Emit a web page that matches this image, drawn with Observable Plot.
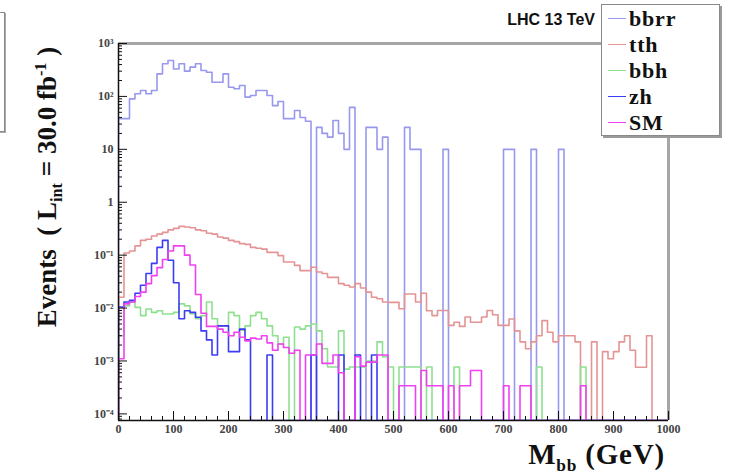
<!DOCTYPE html>
<html>
<head>
<meta charset="utf-8">
<script src="https://cdn.jsdelivr.net/npm/d3@7"></script>
<script src="https://cdn.jsdelivr.net/npm/@observablehq/plot@0.6"></script>
<style>
  html, body { margin: 0; padding: 0; background: #fff; }
  #wrap { position: relative; width: 731px; height: 476px; overflow: hidden; background: #fff; }
  #chart { position: absolute; left: 0; top: 0; }
  .ov { position: absolute; white-space: nowrap; }
  .serifb { font-family: "Liberation Serif", "DejaVu Serif", serif; font-weight: bold; color: #111; }
  #legend { position: absolute; left: 601px; top: 4px; width: 117px; height: 130px; background: #fff;
            border: 1.5px solid #8a8a8a; box-shadow: 2px 2px 0 #9a9a9a; }
  .lrow { position: absolute; left: 0; height: 26px; }
  .lline { position: absolute; left: 6px; top: 12px; width: 18px; height: 0; border-top: 1.5px solid; }
  .ltext { position: absolute; left: 27px; top: 0; font-size: 22px; line-height: 26px; letter-spacing: 0.8px; }
  #lhc { font-family: "Liberation Sans", Arial, sans-serif; font-weight: bold; font-size: 16px; color: #111; }
  sub, sup { font-size: 60%; line-height: 0; }
</style>
</head>
<body>
<div id="wrap">
  <div id="chart"></div>
</div>
<script>
// ---------------- data (10 GeV bins from 0 to 1000 GeV) ----------------
const binWidth = 10;
const xMin = 0, xMax = 1000;

const seriesNames = ["bbrr", "tth", "bbh", "zh", "SM"];
const seriesColors = ["#9898ee", "#e49494", "#8ee08e", "#3c3cf4", "#f040f0"];

const bbrr = [38, 38, 90, 112, 129, 112, 129, 267, 413, 477,
  330, 413, 300, 357, 413, 309, 287, 185, 185, 267,
  149, 140, 161, 97, 104, 129, 129, 104, 67, 80,
  38, 38, 54, 40, 34, 0, 26, 20, 17, 35,
  20, 10, 62, 0, 0, 26, 26, 10, 17, 0,
  0, 0, 26, 10, 10, 0, 0, 0, 0, 10,
  0, 0, 0, 0, 0, 0, 0, 0, 0, 0,
  10, 10, 0, 0, 0, 10, 0, 0, 0, 0,
  10, 0, 0, 0, 0, 0, 0, 0, 0, 0,
  0, 0, 0, 0, 0, 0, 0, 0, 0, 0];

const tth = [0.016, 0.11, 0.12, 0.15, 0.19, 0.2, 0.23, 0.25, 0.27, 0.3,
  0.32, 0.35, 0.34, 0.33, 0.3, 0.29, 0.26, 0.25, 0.22, 0.21,
  0.19, 0.18, 0.165, 0.16, 0.14, 0.135, 0.13, 0.113, 0.113, 0.098,
  0.074, 0.074, 0.064, 0.051, 0.051, 0.059, 0.048, 0.045, 0.038, 0.038,
  0.029, 0.027, 0.025, 0.029, 0.024, 0.02, 0.016, 0.015, 0.013, 0.0128,
  0.0128, 0.0097, 0.0185, 0.0185, 0.013, 0.019, 0.0089, 0.0072, 0.009, 0.009,
  0.0047, 0.0054, 0.0045, 0.0068, 0.0054, 0.0054, 0.0068, 0.009, 0.0075, 0.0047,
  0.0047, 0.0062, 0.0037, 0.0023, 0.0017, 0.0023, 0.003, 0.0058, 0.0035, 0.0023,
  0.003, 0.003, 0.003, 0.0023, 0, 0, 0.0023, 0, 0.0015, 0.0011,
  0.0015, 0.0023, 0.003, 0.0016, 0.00076, 0.00076, 0.003, 0, 0, 0];

const bbh = [0.003, 0.011, 0.013, 0.0103, 0.0072, 0.0096, 0.0083, 0.0089, 0.0077, 0.0077,
  0.0083, 0.012, 0.011, 0.0078, 0.0063, 0.0072, 0.013, 0.0063, 0.0046, 0.0046,
  0.0083, 0.0072, 0.0038, 0.0046, 0.0072, 0.0083, 0.0063, 0.0046, 0.003, 0.0021,
  0.0028, 0, 0.0044, 0.004, 0.0046, 0.005, 0.0037, 0.0017, 0.00077, 0.00077,
  0.0037, 0.0007, 0.00077, 0.00077, 0.00077, 0.001, 0.001, 0.0023, 0.0012, 0.00077,
  0, 0.00077, 0.00077, 0.00077, 0.00077, 0, 0.00077, 0, 0, 0,
  0, 0.00077, 0, 0, 0, 0, 0, 0, 0, 0,
  0, 0, 0, 0, 0, 0, 0.00077, 0, 0, 0,
  0, 0, 0, 0, 0.00077, 0, 0, 0, 0, 0,
  0, 0, 0, 0, 0, 0, 0, 0, 0, 0];

const zh = [0.0105, 0.013, 0.014, 0.019, 0.027, 0.045, 0.07, 0.14, 0.19, 0.08,
  0.03, 0.0063, 0.0089, 0.0083, 0.0067, 0.0037, 0.0025, 0.0013, 0.0046, 0.0046,
  0.0015, 0.0015, 0.004, 0.0025, 0, 0, 0, 0.0013, 0, 0,
  0, 0, 0, 0, 0, 0.0013, 0, 0, 0, 0,
  0.0013, 0, 0, 0.0013, 0, 0, 0.0013, 0, 0, 0,
  0, 0, 0, 0, 0, 0, 0, 0, 0, 0,
  0, 0, 0, 0, 0, 0, 0, 0, 0, 0,
  0, 0, 0, 0, 0, 0, 0, 0, 0, 0,
  0, 0, 0, 0, 0, 0, 0, 0, 0, 0,
  0, 0, 0, 0, 0, 0, 0, 0, 0, 0];

const SM = [0.0011, 0.012, 0.013, 0.0165, 0.02, 0.029, 0.041, 0.058, 0.083, 0.12,
  0.15, 0.15, 0.10, 0.065, 0.018, 0.008, 0.0045, 0.0045, 0.004, 0.0035,
  0.003, 0.0035, 0.0028, 0.0024, 0.0027, 0.0026, 0.003, 0.0022, 0.0016, 0.0021,
  0.0018, 0.0014, 0.0016, 0, 0.0013, 0.0013, 0.0021, 0.0009, 0.0009, 0.0013,
  0.0006, 0, 0, 0.0012, 0.0008, 0.00095, 0.00095, 0.0013, 0.0013, 0,
  0, 0.00034, 0.00034, 0.00034, 0, 0.00066, 0.00034, 0.00034, 0.00034, 0,
  0.00034, 0, 0.00034, 0.00034, 0.00066, 0.00066, 0, 0, 0, 0,
  0.00034, 0, 0, 0.00034, 0.00034, 0, 0, 0, 0, 0,
  0, 0, 0, 0, 0.00034, 0, 0, 0, 0, 0,
  0, 0, 0, 0, 0, 0, 0, 0, 0, 0];

const xTickValues = [0, 100, 200, 300, 400, 500, 600, 700, 800, 900, 1000];
const yTickValues = [1e-4, 1e-3, 1e-2, 1e-1, 1, 10, 100, 1000];
const yTickLabels = ["10\u207B\u2074", "10\u207B\u00B3", "10\u207B\u00B2", "10\u207B\u00B9", "1", "10", "10\u00B2", "10\u00B3"];

// ---------------- build step outlines ----------------
const yFloor = 7.5e-5; // bottom of the log axis; empty bins fall to it
const seriesValues = [bbrr, tth, bbh, zh, SM];

function outline(name, values) {
  const pts = [{s: name, x: xMin, y: yFloor}];
  values.forEach((v, i) => {
    const y = v > 0 ? v : yFloor;
    pts.push({s: name, x: xMin + i * binWidth, y});
    pts.push({s: name, x: xMin + (i + 1) * binWidth, y});
  });
  pts.push({s: name, x: xMin + values.length * binWidth, y: yFloor});
  return pts;
}

const lineMarks = seriesNames.map((n, k) =>
  Plot.line(outline(n, seriesValues[k]), {x: "x", y: "y", stroke: seriesColors[k], strokeWidth: 1.6, clip: true})
);

// minor ticks
const minorX = d3.range(xMin, xMax + 1, 20).filter(v => v % 100 !== 0);
const minorY = [];
for (let e = -5; e <= 2; e++) for (let m = 2; m <= 9; m++) {
  const v = m * Math.pow(10, e);
  if (v > yFloor && v < 1000) minorY.push(v);
}
const yLabelOf = new Map(yTickValues.map((v, i) => [v, yTickLabels[i]]));

const chart = Plot.plot({
  width: 731,
  height: 476,
  marginLeft: 118,
  marginRight: 63,
  marginTop: 43,
  marginBottom: 56,
  x: {domain: [xMin, xMax], label: null},
  y: {type: "log", domain: [yFloor, 1000], label: null},
  style: {fontFamily: "'Liberation Serif', serif", fontSize: "12px", fontWeight: "bold", color: "#444", background: "#fff"},
  marks: [
    ...lineMarks,
    Plot.ruleY([1000], {stroke: "#a6a6a6", strokeWidth: 3}),
    Plot.ruleX([xMax], {stroke: "#a6a6a6", strokeWidth: 3}),
    Plot.axisY(minorY, {anchor: "left", tickSize: -4, tickFormat: () => "", label: null, stroke: "#111"}),
    Plot.axisY(yTickValues, {anchor: "left", tickSize: -9, tickPadding: 14, tickFormat: d => yLabelOf.get(d), label: null, stroke: "#111"}),
    Plot.axisX(minorX, {anchor: "bottom", tickSize: -4, tickFormat: () => "", label: null, stroke: "#111"}),
    Plot.axisX(xTickValues, {anchor: "bottom", tickSize: -9, tickPadding: 13, tickFormat: d => String(d), label: null, stroke: "#111"}),
    Plot.ruleX([xMin], {stroke: "#111", strokeWidth: 1.5}),
    Plot.ruleY([yFloor], {stroke: "#111", strokeWidth: 1.5})
  ]
});
document.getElementById("chart").appendChild(chart);

// ---------------- overlays: labels, legend ----------------
const wrap = document.getElementById("wrap");

const bracket = document.createElement("div");
bracket.style.cssText = "position:absolute;left:-12px;top:12px;width:15px;height:118px;border:1.5px solid #8a8a8a;box-shadow:1px 1px 0 #aaa;";
wrap.appendChild(bracket);

const ylab = document.createElement("div");
ylab.className = "ov serifb";
ylab.style.cssText += "left:47px;top:187px;font-size:27px;line-height:27px;transform:translate(-50%,-50%) rotate(-90deg);";
ylab.innerHTML = "Events&nbsp; ( L<sub>int</sub> = 30.0 fb<sup>-1</sup> )";
wrap.appendChild(ylab);

const xlab = document.createElement("div");
xlab.className = "ov serifb";
xlab.style.cssText += "right:66px;top:441px;font-size:29px;line-height:27px;letter-spacing:0.8px;";
xlab.innerHTML = "M<sub>bb</sub> (GeV)";
wrap.appendChild(xlab);

const lhc = document.createElement("div");
lhc.id = "lhc";
lhc.className = "ov";
lhc.style.cssText += "right:136px;top:11px;";
lhc.textContent = "LHC 13 TeV";
wrap.appendChild(lhc);

const legend = document.createElement("div");
legend.id = "legend";
seriesNames.forEach((n, k) => {
  const row = document.createElement("div");
  row.className = "lrow";
  row.style.top = (1 + k * 26) + "px";
  row.style.width = "117px";
  const ln = document.createElement("div");
  ln.className = "lline";
  ln.style.borderTopColor = seriesColors[k];
  const tx = document.createElement("div");
  tx.className = "ltext serifb";
  tx.textContent = n;
  row.appendChild(ln);
  row.appendChild(tx);
  legend.appendChild(row);
});
wrap.appendChild(legend);
</script>
</body>
</html>
